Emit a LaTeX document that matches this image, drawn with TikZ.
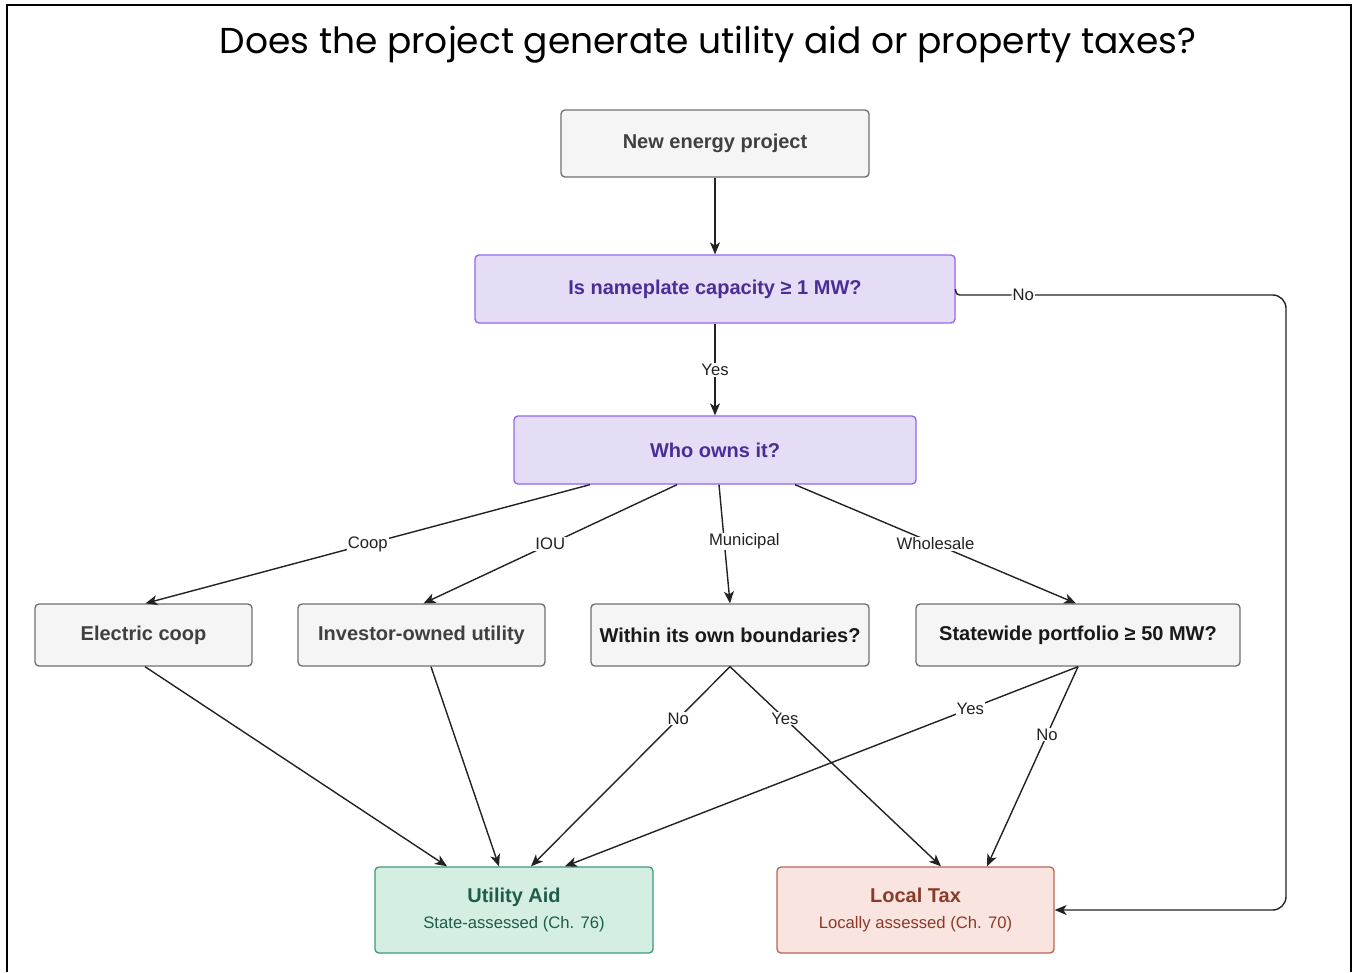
\documentclass[tikz,border=0pt]{standalone}
\usepackage{fontspec}
\setmainfont{Liberation Sans}
\newfontfamily\titlefont{Poppins}
\usetikzlibrary{calc,arrows.meta}
\definecolor{grayfill}{HTML}{F5F5F5}
\definecolor{graydraw}{HTML}{707070}
\definecolor{graytext}{HTML}{404040}
\definecolor{purfill}{HTML}{E5DCF5}
\definecolor{purdraw}{HTML}{9466F0}
\definecolor{purtext}{HTML}{4A2E96}
\definecolor{grnfill}{HTML}{D4EFE2}
\definecolor{grndraw}{HTML}{3E9A7C}
\definecolor{grntext}{HTML}{1F5C4B}
\definecolor{redfill}{HTML}{FAE4DF}
\definecolor{reddraw}{HTML}{B86650}
\definecolor{redtext}{HTML}{8B3A2A}
\definecolor{edgecol}{HTML}{222222}
\tikzset{
  sz/.style 2 args={minimum width={#1*0.75pt}, minimum height={#2*0.75pt}},
  box/.style={draw=graydraw, fill=grayfill, rounded corners=3pt, line width=1pt,
    font=\fontsize{15}{18}\selectfont\bfseries, text=graytext, inner sep=0pt, align=center},
  qbox/.style={box, text=black!90},
  pbox/.style={box, draw=purdraw, fill=purfill, text=purtext},
  gbox/.style={box, draw=grndraw, fill=grnfill, text=grntext},
  rbox/.style={box, draw=reddraw, fill=redfill, text=redtext},
  edge/.style={draw=edgecol, line width=1.05pt, -{Stealth[length=9pt, width=7.5pt, inset=2.5pt]}},
  lbl/.style={fill=white, inner sep=0.75pt, font=\fontsize{12.5}{14}\selectfont, text=edgecol}
}
\begin{document}
\begin{tikzpicture}[x=0.75pt, y=-0.75pt]
\useasboundingbox (0,0) rectangle (1353,972);
% frame
\draw[line width=1.6pt] (7,972) -- (7,5) -- (1351,5) -- (1351,972);
% title
\node[font=\titlefont\fontsize{27}{32}\selectfont] (title) at (708,45) {Does the project generate utility aid or property taxes?};
% nodes
\node[box, sz={308}{67}] (new) at (715,143.5) {New energy project};
\node[pbox, sz={480}{68}] (cap) at (715,289) {Is nameplate capacity ≥ 1 MW?};
\node[pbox, sz={402}{68}] (who) at (715,450) {Who owns it?};
\node[box, sz={217}{62}] (coop) at (143.5,635) {Electric coop};
\node[box, sz={247}{62}] (iou) at (421.5,635) {Investor-owned utility};
\node[qbox, sz={278}{62}] (within) at (730,635) {Within its own boundaries?};
\node[qbox, sz={324}{62}] (state) at (1078,635) {Statewide portfolio ≥ 50 MW?};
\node[gbox, sz={278}{86}] (ua) at (514,910) {Utility Aid\\[1.5pt]{\fontsize{12.5}{14}\selectfont\mdseries State-assessed (Ch. 76)}};
\node[rbox, sz={277}{86}] (lt) at (915.5,910) {Local Tax\\[1.5pt]{\fontsize{12.5}{14}\selectfont\mdseries Locally assessed (Ch. 70)}};
% helper coordinates
\coordinate (r1) at (1286,295);
\coordinate (r2) at (1286,910);
% edges
\draw[edge] (new.south) -- (cap.north);
\draw[edge] (cap.south) -- node[lbl, pos=0.505]{Yes} (who.north);
\draw[edge] (cap.east) [rounded corners=3pt] -- ($(cap.east)+(0,6)$) -- ($(cap.east)+(10,6)$) [rounded corners=10pt] -- node[lbl, pos=0.18]{No} (r1) -- (r2) -- (lt.east);
\draw[edge] ($(who.south)+(-125,0)$) -- node[lbl, pos=0.5]{Coop} ($(coop.north)+(2,0)$);
\draw[edge] ($(who.south)+(-38,0)$) -- node[lbl, pos=0.5]{IOU} ($(iou.north)+(2,0)$);
\draw[edge] ($(who.south)+(4,0)$) -- node[lbl, pos=0.48, xshift=15pt]{Municipal} (within.north);
\draw[edge] ($(who.south)+(80,0)$) -- node[lbl, pos=0.5]{Wholesale} ($(state.north)+(-2,0)$);
\draw[edge] ($(coop.south)+(1.5,0)$) -- ($(ua.north)+(-67,0)$);
\draw[edge] ($(iou.south)+(9.5,0)$) -- ($(ua.north)+(-15,0)$);
\draw[edge] (within.south) -- node[lbl, pos=0.26]{No} ($(ua.north)+(17,0)$);
\draw[edge] (within.south) -- node[lbl, pos=0.26]{Yes} ($(lt.north)+(25.5,0)$);
\draw[edge] (state.south) -- node[lbl, pos=0.21]{Yes} ($(ua.north)+(51,0)$);
\draw[edge] (state.south) -- node[lbl, pos=0.34]{No} ($(lt.north)+(71.5,0)$);
\end{tikzpicture}
\end{document}
